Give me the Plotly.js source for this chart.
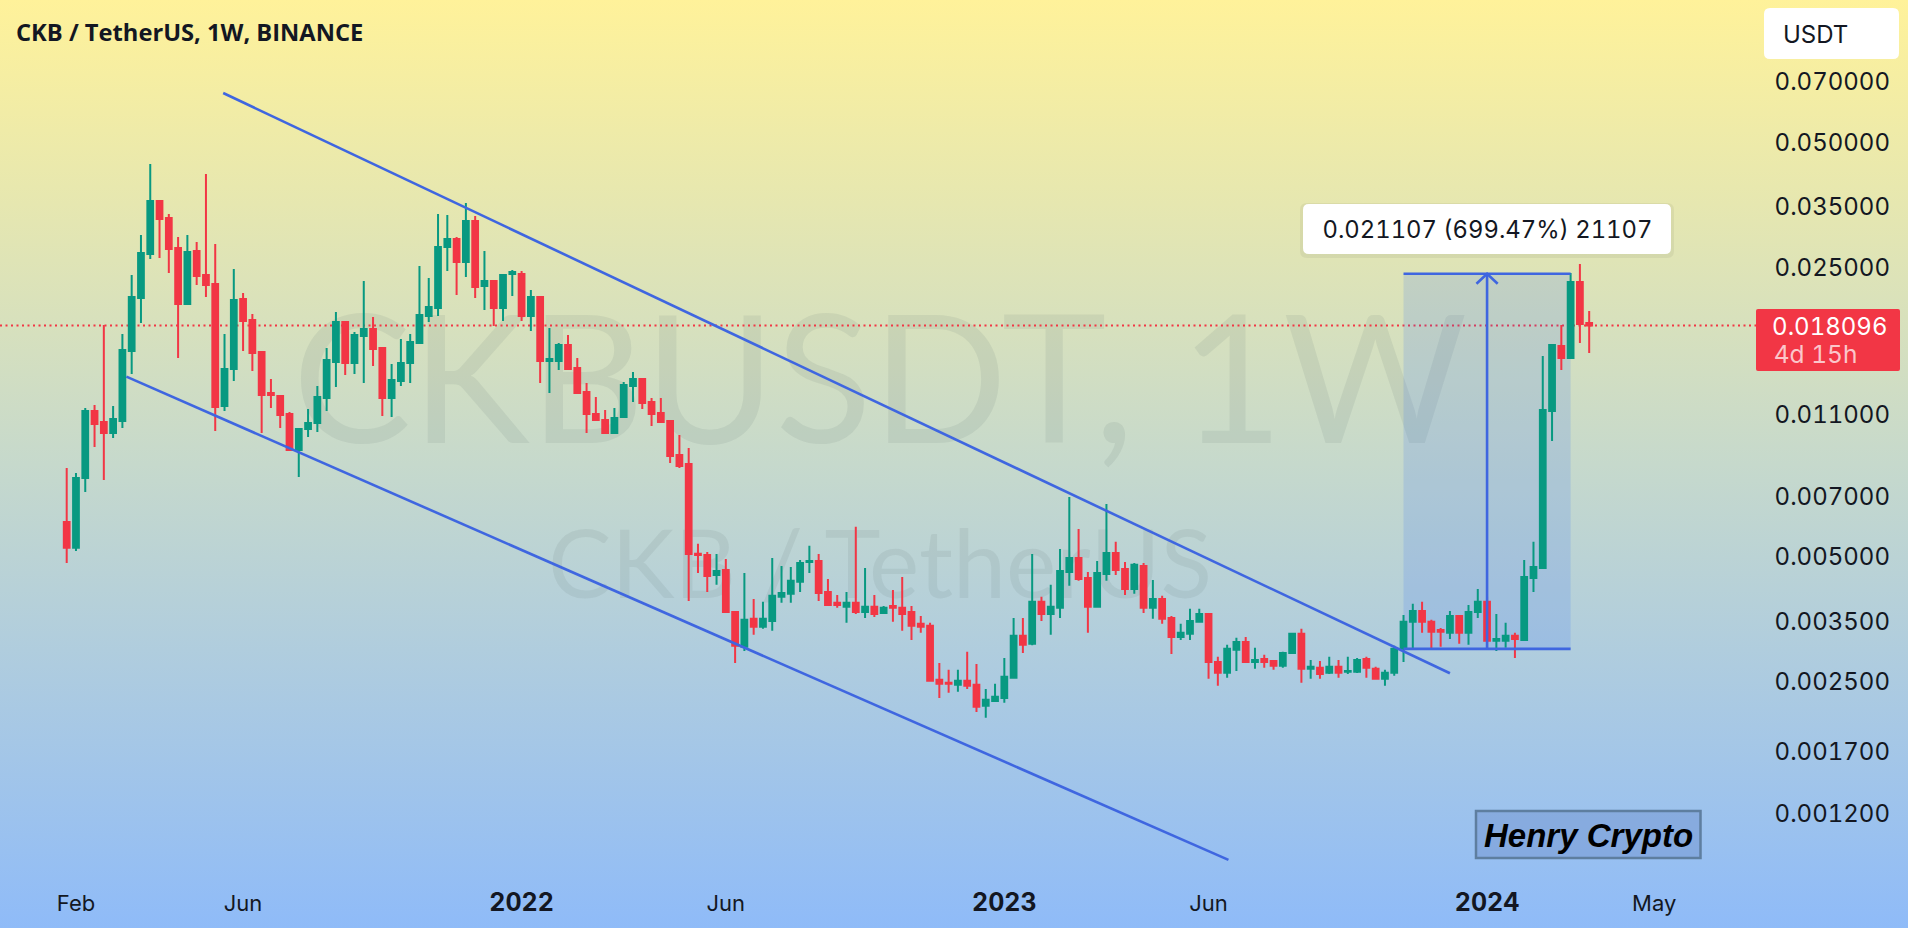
<!DOCTYPE html>
<html><head><meta charset="utf-8">
<script src="https://cdn.plot.ly/plotly-3.0.1.min.js"></script>
<style>
html,body{margin:0;padding:0;width:1908px;height:928px;overflow:hidden;background:linear-gradient(180deg,#FFF29A 0%,#C6D9CC 50%,#8FBBF8 100%);}
#chart{width:1908px;height:928px;}
#chart text{font-feature-settings:"tnum" 1;}
</style></head><body><div id="chart"></div>
<script>
const weeks=['2021-01-25','2021-02-01','2021-02-08','2021-02-15','2021-02-22','2021-03-01','2021-03-08','2021-03-15','2021-03-22','2021-03-29','2021-04-05','2021-04-12','2021-04-19','2021-04-26','2021-05-03','2021-05-10','2021-05-17','2021-05-24','2021-05-31','2021-06-07','2021-06-14','2021-06-21','2021-06-28','2021-07-05','2021-07-12','2021-07-19','2021-07-26','2021-08-02','2021-08-09','2021-08-16','2021-08-23','2021-08-30','2021-09-06','2021-09-13','2021-09-20','2021-09-27','2021-10-04','2021-10-11','2021-10-18','2021-10-25','2021-11-01','2021-11-08','2021-11-15','2021-11-22','2021-11-29','2021-12-06','2021-12-13','2021-12-20','2021-12-27',
'2022-01-03','2022-01-10','2022-01-17','2022-01-24','2022-01-31','2022-02-07','2022-02-14','2022-02-21','2022-02-28','2022-03-07','2022-03-14','2022-03-21','2022-03-28','2022-04-04','2022-04-11','2022-04-18','2022-04-25','2022-05-02','2022-05-09','2022-05-16','2022-05-23','2022-05-30','2022-06-06','2022-06-13','2022-06-20','2022-06-27','2022-07-04','2022-07-11','2022-07-18','2022-07-25','2022-08-01','2022-08-08','2022-08-15','2022-08-22','2022-08-29','2022-09-05','2022-09-12','2022-09-19','2022-09-26','2022-10-03','2022-10-10','2022-10-17','2022-10-24','2022-10-31','2022-11-07','2022-11-14','2022-11-21','2022-11-28','2022-12-05','2022-12-12','2022-12-19','2022-12-26',
'2023-01-02','2023-01-09','2023-01-16','2023-01-23','2023-01-30','2023-02-06','2023-02-13','2023-02-20','2023-02-27','2023-03-06','2023-03-13','2023-03-20','2023-03-27','2023-04-03','2023-04-10','2023-04-17','2023-04-24','2023-05-01','2023-05-08','2023-05-15','2023-05-22','2023-05-29','2023-06-05','2023-06-12','2023-06-19','2023-06-26','2023-07-03','2023-07-10','2023-07-17','2023-07-24','2023-07-31','2023-08-07','2023-08-14','2023-08-21','2023-08-28','2023-09-04','2023-09-11','2023-09-18','2023-09-25','2023-10-02','2023-10-09','2023-10-16','2023-10-23','2023-10-30','2023-11-06','2023-11-13','2023-11-20','2023-11-27','2023-12-04','2023-12-11','2023-12-18','2023-12-25',
'2024-01-01','2024-01-08','2024-01-15','2024-01-22','2024-01-29','2024-02-05','2024-02-12','2024-02-19','2024-02-26','2024-03-04','2024-03-11','2024-03-18'];
const opens=[.006075,.005259,.007758,.011254,.010587,.009959,.010646,.015705,.021085,.02692,.036133,.032883,.027835,.020391,.027371,.023957,.022788,.011572,.014213,.020968,.018656,.015618,.012437,.012233,.011068,.009062,.010182,.010528,.012098,.014775,.018451,.014693,.017071,.017749,.015971,.012098,.013294,.014693,.016419,.019077,.019945,.02799,.029262,.025749,.032334,.022537,.023169,.019945,.02409,.02409,.019077,.021201,.014856,.014856,.016238,.014292,.012507,.011068,.010705,.009959,.010886,.012931,.013445,.011831,.011128,.010646,.008815,.008384,.00509,.005058,.004526,.004653,.003685,.003034,.003545,.003391,.003505,.004006,.004073,.004354,.004865,.004892,.004118,.003875,.003789,.003875,.003685,.003789,.003664,.003809,.003768,.003685,.003448,.00341,.002526,.002484,.002457,.002512,.002457,.002186,.002247,.002285,.002554,.003225,.003085,.003897,.003644,.003768,.004602,.004973,.004451,.003789,.004551,.005114,.004679,.004187,.004757,.003768,.003961,.003564,.003207,.003261,.003486,.003644,.002791,.002626,.002984,.003119,.002791,.002838,.002806,.00273,.002934,.003261,.002685,.0027,.002626,.002715,.002641,.002641,.002838,.002685,.00254,.002626,.003001,.003486,.003705,.003486,.003334,.00328,.003604,.00328,.003685,.003897,.003137,.003137,.003225,.003154,.004451,.004704,.011254,.016148,.015108,.023042,.018348];
const highs=[.008201,.007975,.011445,.011636,.018147,.011572,.017261,.023957,.029917,.044384,.036334,.033618,.029588,.029917,.028775,.041985,.028458,.017261,.02477,.021675,.01929,.015705,.013445,.012268,.011192,.010241,.011382,.012931,.015971,.019505,.018553,.017454,.023169,.018973,.015971,.014612,.01679,.017261,.025185,.023563,.033618,.033433,.029588,.035735,.03325,.027371,.023298,.02409,.024629,.024493,.022039,.021319,.017848,.016419,.017166,.015108,.013148,.012165,.011316,.011445,.013221,.013977,.013521,.012098,.012098,.010705,.00985,.009164,.005377,.005142,.005086,.004946,.003705,.004576,.003961,.003897,.004973,.004757,.00473,.004919,.005319,.005086,.004426,.00405,.004118,.00591,.004704,.00405,.003809,.004164,.004476,.003809,.003604,.003467,.002775,.00267,.00267,.002951,.00276,.002402,.002471,.002853,.003564,.003564,.005086,.004006,.004283,.005229,.00698,.005843,.004602,.004892,.006714,.005437,.004865,.004838,.004838,.004402,.004029,.003604,.003448,.003747,.003747,.003664,.00287,.003068,.00319,.003207,.003018,.002902,.00281,.002951,.00328,.003353,.002822,.002806,.00287,.002822,.00287,.002853,.00287,.002715,.00267,.003051,.003624,.003853,.003897,.003525,.003371,.003705,.003624,.00383,.004187,.004006,.003644,.003467,.00328,.004919,.005437,.015275,.016328,.018147,.024223,.025461,.019613];
const lows=[.004838,.005171,.007176,.009215,.007671,.009688,.010241,.013822,.018348,.026185,.026331,.024223,.015108,.020391,.022662,.021201,.01007,.011254,.013294,.015705,.014054,.009959,.011445,.010241,.009012,.007801,.009741,.010014,.011254,.01286,.013746,.013822,.013148,.014451,.010946,.010886,.012931,.013148,.016328,.018451,.019077,.024493,.021437,.023693,.021085,.019722,.018046,.018553,.021319,.018553,.01755,.013148,.012437,.014132,.014213,.012369,.009959,.010646,.009959,.0099,.010886,.011831,.011382,.010355,.010587,.00843,.008201,.003917,.004576,.004118,.004283,.003685,.002775,.002967,.003243,.003353,.003316,.003875,.003875,.004118,.004576,.003917,.003809,.003768,.003467,.003644,.003564,.003584,.003644,.003486,.003316,.003154,.00328,.002512,.002285,.00235,.002363,.002402,.002114,.002045,.002235,.002223,.00254,.002934,.00306,.003505,.003243,.003564,.004259,.004378,.00328,.003768,.004378,.004526,.00405,.004073,.003664,.003545,.003448,.002917,.003154,.003154,.003467,.00254,.002443,.002554,.002655,.002775,.002685,.0027,.00267,.0027,.00292,.002484,.00254,.00254,.002611,.002554,.002611,.002625,.002554,.00254,.002443,.002583,.002791,.003001,.00328,.003001,.003034,.00317,.003085,.003068,.003564,.003018,.002967,.003018,.002853,.00314,.004118,.004679,.009526,.014132,.01503,.016419,.015532];
const closes=[.005259,.007758,.011254,.010471,.009959,.010766,.015792,.021201,.027069,.036133,.0327,.027681,.020391,.027221,.023824,.022662,.011508,.014213,.020848,.018553,.015532,.012301,.012301,.011007,.009062,.010182,.010528,.012165,.014939,.018451,.014693,.017166,.017749,.015883,.012098,.013368,.014693,.01651,.019184,.020056,.02799,.029262,.025749,.032334,.022413,.023169,.019945,.023957,.024358,.019077,.021201,.014856,.015024,.016238,.014213,.012437,.011068,.010705,.009959,.010826,.013002,.013445,.011766,.011068,.010587,.008766,.008292,.005086,.005058,.004501,.004627,.003685,.003051,.003525,.003391,.003545,.004029,.004095,.004378,.004838,.004892,.004095,.00383,.00383,.003875,.003685,.003789,.003644,.003768,.003768,.003644,.00341,.003391,.002512,.002471,.002471,.002512,.002443,.002174,.00226,.002298,.002568,.003225,.003068,.003897,.003644,.003789,.004627,.004973,.004426,.003789,.004576,.005114,.004653,.004187,.004785,.003768,.003961,.003545,.003207,.00328,.003505,.003644,.002791,.002626,.003001,.003119,.002791,.002822,.002791,.00273,.002934,.003261,.002685,.002715,.002611,.002715,.002626,.002655,.002822,.0027,.00254,.002626,.003001,.003486,.003705,.003486,.003298,.003298,.003604,.00328,.003685,.003897,.003137,.00317,.003225,.00317,.004476,.00473,.011316,.016238,.015108,.023042,.018248,.018096];
const yTickVals=[.07,.05,.035,.025,.011,.007,.005,.0035,.0025,.0017,.0012];
const yTickText=['0.070000','0.050000','0.035000','0.025000','0.011000','0.007000','0.005000','0.003500','0.002500','0.001700','0.001200'];
const xTickVals=['2021-02-01','2021-06-07','2022-01-03','2022-06-06','2023-01-02','2023-06-05','2024-01-01','2024-05-06'];
const xTickText=['Feb','Jun','<span style="font-size:25px"><b>2022</b></span>','Jun','<span style="font-size:25px"><b>2023</b></span>','Jun','<span style="font-size:25px"><b>2024</b></span>','May'];
const upperX=['2021-05-23','2023-12-04'],upperY=[.06585,.00262];
const lowerX=['2021-03-11','2023-06-20'],lowerY=[.013615,.000929];
const boxX=['2023-10-30','2024-03-04'],boxBottom=.003,boxTop=.024125;
const arrowX=['2024-01-01','2024-01-01'],arrowY=[boxBottom,boxTop];
const headX=['2023-12-24','2024-01-01','2024-01-09'],headY=[.02282,.024125,.02282];
const lastPrice=.018096;
const BLUE='#3F66E0',GREEN='#089981',RED='#F23645',INK='#131722',W=1908,H=928;
const UI='Inter, "Open Sans", sans-serif';
const px=x=>x/W, py=y=>1-y/H;
function rr(x0,y0,x1,y1,r){const X=v=>px(v).toFixed(5),Y=v=>py(v).toFixed(5);
 return `M${X(x0+r)} ${Y(y0)}L${X(x1-r)} ${Y(y0)}Q${X(x1)} ${Y(y0)} ${X(x1)} ${Y(y0+r)}L${X(x1)} ${Y(y1-r)}Q${X(x1)} ${Y(y1)} ${X(x1-r)} ${Y(y1)}L${X(x0+r)} ${Y(y1)}Q${X(x0)} ${Y(y1)} ${X(x0)} ${Y(y1-r)}L${X(x0)} ${Y(y0+r)}Q${X(x0)} ${Y(y0)} ${X(x0+r)} ${Y(y0)}Z`;}
const seg=(x,y,w=2.6)=>({type:'scatter',mode:'lines',x,y,line:{color:BLUE,width:w},hoverinfo:'skip',showlegend:false});
const traces=[
 seg(upperX,upperY),seg(lowerX,lowerY),
 seg(boxX,[boxTop,boxTop]),seg(boxX,[boxBottom,boxBottom]),seg(arrowX,arrowY),seg(headX,headY),
 {type:'candlestick',x:weeks,open:opens,high:highs,low:lows,close:closes,
  increasing:{line:{color:GREEN,width:2},fillcolor:GREEN},decreasing:{line:{color:RED,width:2},fillcolor:RED},
  whiskerwidth:0,showlegend:false,hoverinfo:'skip'}
];
const wm=(x0,y0,x1,y1,text,size)=>({type:'rect',layer:'below',xref:'paper',yref:'paper',x0:px(x0),x1:px(x1),y0:py(y1),y1:py(y0),line:{width:0},fillcolor:'rgba(0,0,0,0)',
 label:{text,textposition:'middle center',font:{family:'Lato, Inter, sans-serif',size,color:'rgba(90,105,105,0.11)'}}});
const paperPath=(path,fill,line,layer)=>({type:'path',layer:layer||'above',xref:'paper',yref:'paper',path,fillcolor:fill,line:line||{width:0}});
const shapes=[
 wm(200,262,1560,482,'CKBUSDT, 1W',178),
 wm(400,500,1360,620,'CKB / TetherUS',95),
 {type:'rect',layer:'below',xref:'x',yref:'y',x0:boxX[0],x1:boxX[1],y0:boxBottom,y1:boxTop,fillcolor:'rgba(41,98,255,0.15)',line:{width:0}},
 {type:'line',layer:'below',xref:'paper',yref:'y',x0:0,x1:px(1756),y0:lastPrice,y1:lastPrice,line:{color:RED,width:2,dash:'2px,3.5px'}},
 paperPath(rr(1756,309,1900,371,2),RED),
 paperPath(rr(1764,8,1899,59,6),'#FFFFFF'),
 paperPath(rr(1300,203,1674,258,7),'rgba(0,0,0,0.05)'),
 paperPath(rr(1303,204,1671,254,6),'#FFFFFF'),
 {type:'rect',xref:'paper',yref:'paper',x0:px(1476),x1:px(1700.5),y0:py(858),y1:py(811),fillcolor:'rgba(110,145,205,0.45)',line:{color:'#5E7E9F',width:2.5}}
];
const note=(x,y,text,size,opts={})=>Object.assign({xref:'paper',yref:'paper',x:px(x),y:py(y),text,showarrow:false,xanchor:'left',yanchor:'middle',font:{family:UI,size,color:INK}},opts);
const annotations=[
 note(1775,327,'0.018096',24,{font:{family:UI,size:24,color:'#FFFFFF'}}),
 note(1774.5,354,'4d 15h',24.5,{font:{family:UI,size:24.5,color:'rgba(255,255,255,0.72)'}}),
 note(1780.5,34,'USDT',24),
 note(1487,230,'0.021107 (699.47%) 21107',23.8,{xanchor:'center'}),
 note(1588,835,'<b><i>Henry Crypto</i></b>',33,{xanchor:'center',font:{family:'"Liberation Sans", Arial, sans-serif',size:33,color:'#000000'}})
];
const layout={
 width:W,height:H,margin:{l:0,r:0,t:0,b:0,pad:0},paper_bgcolor:'rgba(0,0,0,0)',plot_bgcolor:'rgba(0,0,0,0)',showlegend:false,boxgap:0.38,boxgroupgap:0,
 title:{text:'<b>CKB / TetherUS, 1W, BINANCE</b>',x:px(16),xref:'paper',xanchor:'left',y:py(33),yref:'paper',yanchor:'middle',font:{family:'"Open Sans", sans-serif',size:23.7,color:INK},automargin:false},
 xaxis:{type:'date',range:['2020-12-05 17:00','2024-11-13 09:30'],showgrid:false,zeroline:false,showline:false,ticks:'',rangeslider:{visible:false},
  tickmode:'array',tickvals:xTickVals,ticktext:xTickText,ticklabelposition:'inside',ticklabelstandoff:10,tickfont:{family:UI,size:22,color:INK},automargin:false},
 yaxis:{type:'log',side:'right',range:[-3.19641,-0.95703],showgrid:false,zeroline:false,showline:false,ticks:'',
  tickmode:'array',tickvals:yTickVals,ticktext:yTickText,ticklabelposition:'inside',ticklabelstandoff:15,tickfont:{family:UI,size:24,color:INK},automargin:false},
 shapes,annotations
};
Plotly.newPlot('chart',traces,layout,{displayModeBar:false,staticPlot:true,responsive:false});
</script></body></html>
